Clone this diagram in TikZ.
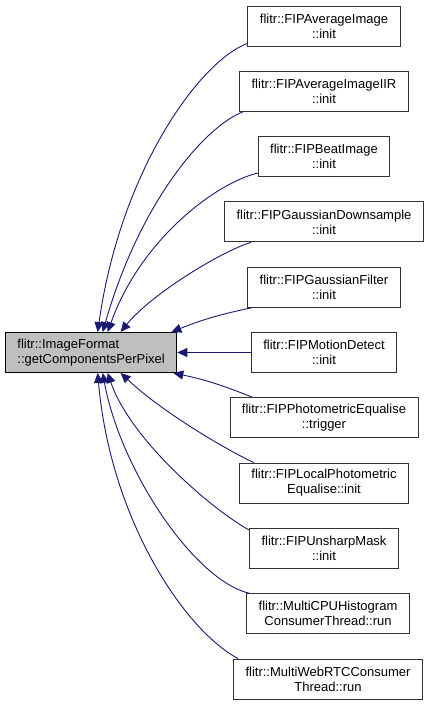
\documentclass[tikz,border=0pt]{standalone}
\usepackage{fontspec}
\setmainfont{Liberation Sans}
\usetikzlibrary{arrows.meta,positioning}
\definecolor{CallBlue}{HTML}{191970}
\definecolor{CallGray}{HTML}{BFBFBF}
\tikzset{
  callerbox/.style={draw=black!80,line width=0.9pt,align=center,minimum height=40pt,inner xsep=12pt,inner ysep=2pt,font=\fontsize{13}{15}\selectfont,fill=white},
  mainbox/.style={callerbox,draw=black,fill=CallGray,align=left},
  calledge/.style={-{Triangle[length=10pt,width=9pt]},line width=0.9pt,draw=CallBlue}
}
\begin{document}
\begin{tikzpicture}[x=1pt,y=1pt]
\useasboundingbox (0,0) rectangle (429,705);
\node[callerbox] (avg) at (324,679) {flitr::FIPAverageImage\\::init};
\node[callerbox,below=24.4pt of avg] (avgiir) {flitr::FIPAverageImageIIR\\::init};
\node[callerbox,below=24.4pt of avgiir] (beat) {flitr::FIPBeatImage\\::init};
\node[callerbox,below=24.4pt of beat] (gdown) {flitr::FIPGaussianDownsample\\::init};
\node[callerbox,below=24.4pt of gdown] (gfilt) {flitr::FIPGaussianFilter\\::init};
\node[callerbox,below=24.4pt of gfilt] (motion) {flitr::FIPMotionDetect\\::init};
\node[callerbox,below=24.4pt of motion] (photo) {flitr::FIPPhotometricEqualise\\::trigger};
\node[callerbox,below=24.4pt of photo] (lphoto) {flitr::FIPLocalPhotometric\\Equalise::init};
\node[callerbox,below=24.4pt of lphoto] (unsharp) {flitr::FIPUnsharpMask\\::init};
\node[callerbox,below=24.4pt of unsharp,xshift=4pt] (mcpu) {flitr::MultiCPUHistogram\\ConsumerThread::run};
\node[callerbox,below=24.4pt of mcpu] (mweb) {flitr::MultiWebRTCConsumer\\Thread::run};
\node[mainbox,anchor=west] (comp) at (5,352.5) {flitr::ImageFormat\\::getComponentsPerPixel};

\draw[calledge] ([yshift=3pt]avg.south west) .. controls +(-47,-17) and +(23,162.5) .. ([xshift=6.5pt]comp.north);
\draw[calledge] ([xshift=4pt]avgiir.south west) .. controls +(-37,-14) and +(38,132.5) .. ([xshift=11.5pt]comp.north);
\draw[calledge] ([yshift=4pt]beat.south west) .. controls +(-42,-10) and +(33,92.5) .. ([xshift=16.5pt]comp.north);
\draw[calledge] ([xshift=27pt]gdown.south west) .. controls +(-30,-9) and +(30,37.5) .. ([xshift=29.5pt]comp.north);
\draw[calledge] ([xshift=5pt]gfilt.south west) to[bend right=5] ([xshift=-6pt]comp.north east);
\draw[calledge] (motion.west) -- (comp.east);
\draw[calledge] ([xshift=23pt]photo.north west) to[bend right=5] ([xshift=-4pt]comp.south east);
\draw[calledge] ([xshift=15pt]lphoto.north west) .. controls +(-18,8) and +(45,-42.5) .. ([xshift=29.5pt]comp.south);
\draw[calledge] ([yshift=-2pt]unsharp.north west) .. controls +(-35,19) and +(23,-67.5) .. ([xshift=16.5pt]comp.south);
\draw[calledge] ([xshift=3pt]mcpu.north west) .. controls +(-55,13) and +(18,-97.5) .. ([xshift=11.5pt]comp.south);
\draw[calledge] ([xshift=5pt]mweb.north west) .. controls +(-53,28) and +(13,-147.5) .. ([xshift=6.5pt]comp.south);
\end{tikzpicture}
\end{document}
